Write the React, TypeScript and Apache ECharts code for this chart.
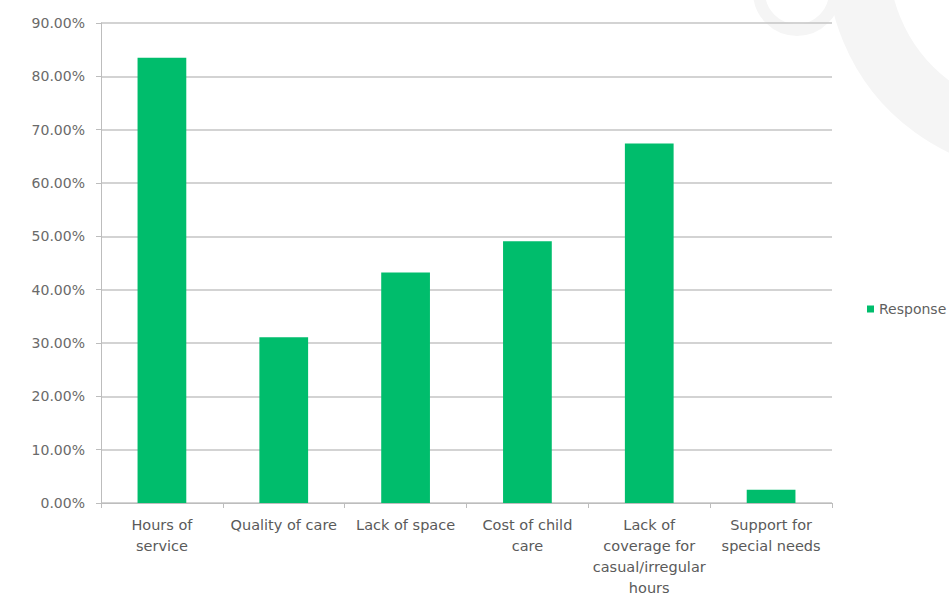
import React, { useEffect, useRef } from "react";
import * as echarts from "echarts";

const categories: string[] = [
  "Hours of\nservice",
  "Quality of care",
  "Lack of space",
  "Cost of child\ncare",
  "Lack of\ncoverage for\ncasual/irregular\nhours",
  "Support for\nspecial needs",
];
const responseValues: number[] = [83.5, 31.1, 43.2, 49.1, 67.4, 2.5];
const seriesName = "Response";
const yMin = 0;
const yMax = 90;
const yInterval = 10;

export default function App() {
  const ref = useRef<HTMLDivElement>(null);
  useEffect(() => {
    if (!ref.current) return;
    const chart = echarts.init(ref.current, undefined, { renderer: "svg" });
    const font = "DejaVu Sans";
    chart.setOption({
      animation: false,
      backgroundColor: "#ffffff",
      graphic: [
        {
          type: "arc",
          z: -10,
          silent: true,
          shape: { cx: 1040, cy: -40, r: 182, startAngle: Math.PI * 0.35, endAngle: Math.PI * 1.05 },
          style: { stroke: "#f5f5f5", lineWidth: 62, fill: "none" },
        },
        {
          type: "arc",
          z: -10,
          silent: true,
          shape: { cx: 797, cy: -8, r: 38, startAngle: 0, endAngle: Math.PI },
          style: { stroke: "#f5f5f5", lineWidth: 12, fill: "none" },
        },
      ],
      grid: { left: 101, right: 117, top: 23, bottom: 95, containLabel: false },
      legend: {
        data: [seriesName],
        left: 862,
        top: 297,
        icon: "rect",
        itemWidth: 7,
        itemHeight: 7,
        textStyle: { fontFamily: font, fontSize: 14, color: "#5f5f5f" },
      },
      xAxis: {
        type: "category",
        data: categories,
        boundaryGap: true,
        axisLine: { show: true, lineStyle: { color: "#bdbdbd", width: 1 } },
        axisTick: { show: true, length: 5, alignWithLabel: false, lineStyle: { color: "#bdbdbd" } },
        axisLabel: {
          interval: 0,
          margin: 11,
          fontFamily: font,
          fontSize: 14.5,
          lineHeight: 21,
          color: "#5a5a5a",
          align: "center",
        },
      },
      yAxis: {
        type: "value",
        min: yMin,
        max: yMax,
        interval: yInterval,
        axisLine: { show: true, lineStyle: { color: "#bdbdbd", width: 1 } },
        axisTick: { show: true, length: 5, inside: false, lineStyle: { color: "#bdbdbd" } },
        splitLine: { show: true, lineStyle: { color: "#c4c4c4", width: 1.5 } },
        axisLabel: {
          margin: 16,
          fontFamily: font,
          fontSize: 14,
          color: "#6a6a6a",
          formatter: (v: number) => v.toFixed(2) + "%",
        },
      },
      series: [
        {
          name: seriesName,
          type: "bar",
          data: responseValues,
          barWidth: "40%",
          itemStyle: { color: "#00bd6c" },
        },
      ],
    });
    return () => chart.dispose();
  }, []);
  return <div ref={ref} style={{ width: 949, height: 598, position: "absolute", left: 0, top: 0 }} />;
}
